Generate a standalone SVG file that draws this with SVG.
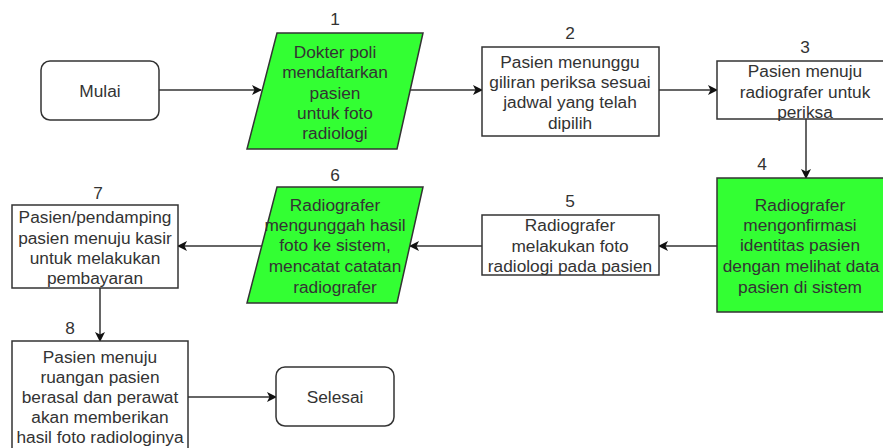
<svg xmlns="http://www.w3.org/2000/svg" width="883" height="448" viewBox="0 0 883 448">
<style>
.box{fill:#fff;stroke:#333;stroke-width:1.5}
.green{fill:#33ff33;stroke:#333;stroke-width:1.5}
text{font-family:"Liberation Sans",Arial,sans-serif;font-size:17.3px;fill:#333;text-anchor:middle;dominant-baseline:central}
.edge{fill:none;stroke:#333;stroke-width:1.5;marker-end:url(#arr)}
</style>
<defs>
<marker id="arr" viewBox="0 0 10 10" refX="9" refY="5" markerWidth="10" markerHeight="10" markerUnits="userSpaceOnUse" orient="auto">
<path d="M0,0 L10,5 L0,10 L2.5,5 Z" fill="#111"/>
</marker>
</defs>
<rect width="883" height="448" fill="#fff"/>
<g id="edges">
<line class="edge" x1="159" y1="90" x2="261" y2="90"/>
<line class="edge" x1="410" y1="90" x2="482" y2="90"/>
<line class="edge" x1="659" y1="90" x2="717" y2="90"/>
<line class="edge" x1="806" y1="119" x2="806" y2="178"/>
<line class="edge" x1="717" y1="246" x2="659" y2="246"/>
<line class="edge" x1="482" y1="246" x2="410" y2="246"/>
<line class="edge" x1="262" y1="246" x2="178" y2="246"/>
<line class="edge" x1="100" y1="288" x2="100" y2="341"/>
<line class="edge" x1="188" y1="397" x2="276" y2="397"/>
</g>
<g id="mulai">
<rect class="box" x="41" y="61" width="118" height="59" rx="9"/>
<text x="100" y="91">Mulai</text>
</g>
<g id="n1">
<polygon class="green" points="277,33 423,33 397,149 247,149"/>
<text x="335" y="19">1</text>
<text x="335" y="52">Dokter poli</text>
<text x="335" y="72">mendaftarkan</text>
<text x="335" y="93">pasien</text>
<text x="335" y="113">untuk foto</text>
<text x="335" y="133">radiologi</text>
</g>
<g id="n2">
<rect class="box" x="482" y="47" width="177" height="89"/>
<text x="570" y="33">2</text>
<text x="570" y="62">Pasien menunggu</text>
<text x="570" y="82">giliran periksa sesuai</text>
<text x="570" y="102">jadwal yang telah</text>
<text x="570" y="123">dipilih</text>
</g>
<g id="n3">
<rect class="box" x="717" y="61" width="176" height="58"/>
<text x="805" y="47">3</text>
<text x="805" y="71">Pasien menuju</text>
<text x="805" y="92">radiografer untuk</text>
<text x="805" y="112">periksa</text>
</g>
<g id="n4">
<rect class="green" x="717" y="178" width="176" height="134"/>
<text x="762" y="164">4</text>
<text x="800" y="205">Radiografer</text>
<text x="800" y="225">mengonfirmasi</text>
<text x="800" y="245">identitas pasien</text>
<text x="801" y="266">dengan melihat data</text>
<text x="800" y="287">pasien di sistem</text>
</g>
<g id="n5">
<rect class="box" x="482" y="215" width="177" height="60"/>
<text x="570" y="201">5</text>
<text x="570" y="225">Radiografer</text>
<text x="570" y="246">melakukan foto</text>
<text x="570" y="266">radiologi pada pasien</text>
</g>
<g id="n6">
<polygon class="green" points="277,187 423,187 397,303 247,303"/>
<text x="335" y="175">6</text>
<text x="335" y="205">Radiografer</text>
<text x="335" y="225">mengunggah hasil</text>
<text x="335" y="245">foto ke sistem,</text>
<text x="335" y="266">mencatat catatan</text>
<text x="335" y="287">radiografer</text>
</g>
<g id="n7">
<rect class="box" x="12" y="205" width="166" height="83"/>
<text x="98" y="193">7</text>
<text x="95" y="217">Pasien/pendamping</text>
<text x="95" y="238">pasien menuju kasir</text>
<text x="95" y="258">untuk melakukan</text>
<text x="95" y="278">pembayaran</text>
</g>
<g id="n8">
<rect class="box" x="12" y="341" width="176" height="112"/>
<text x="70" y="328">8</text>
<text x="100" y="357">Pasien menuju</text>
<text x="100" y="377">ruangan pasien</text>
<text x="100" y="397">berasal dan perawat</text>
<text x="100" y="417">akan memberikan</text>
<text x="100" y="437">hasil foto radiologinya</text>
</g>
<g id="selesai">
<rect class="box" x="276" y="367" width="118" height="59" rx="9"/>
<text x="335" y="397">Selesai</text>
</g>
</svg>
